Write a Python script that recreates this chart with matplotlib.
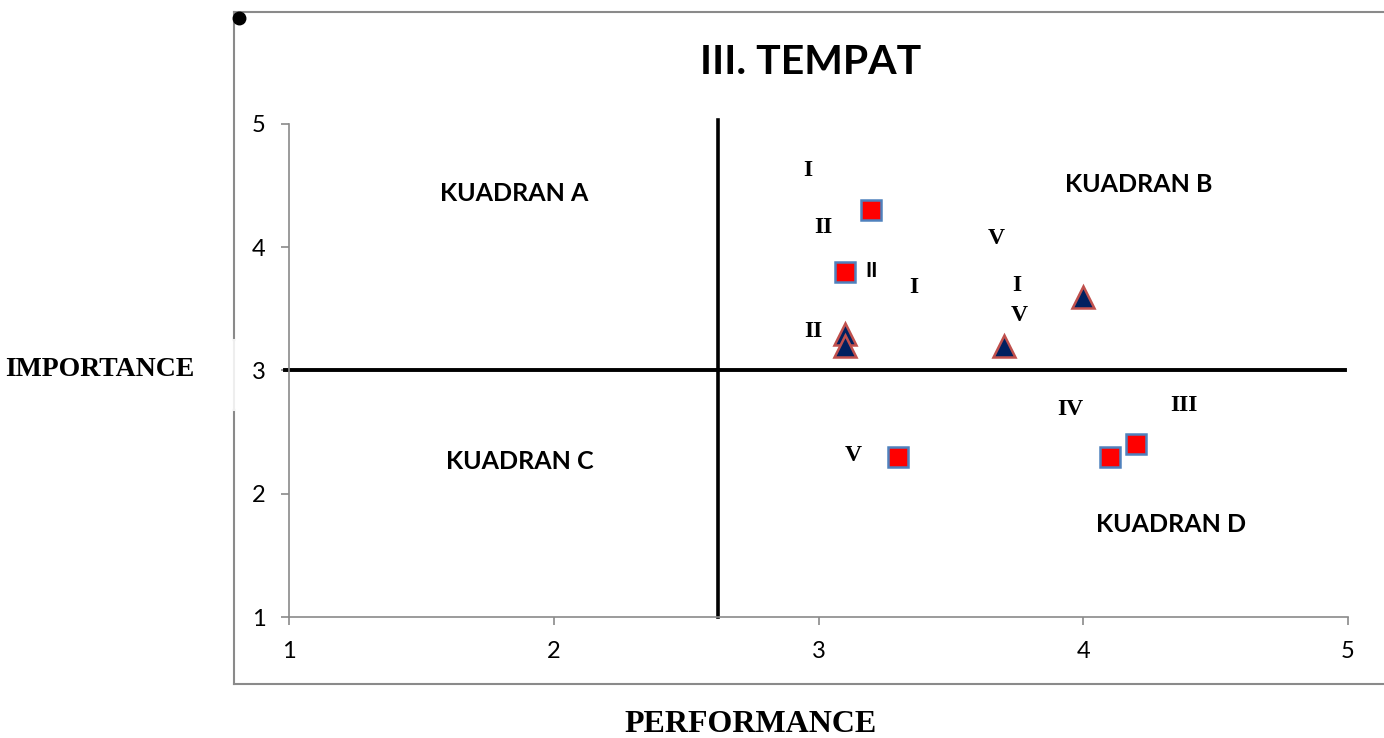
import numpy as np
import matplotlib.pyplot as plt
from matplotlib.lines import Line2D

# ================= data =================
# squares (red)
sq_x = [3.2, 3.1, 3.3, 4.1, 4.2]
sq_y = [4.3, 3.8, 2.3, 2.3, 2.4]

# triangles (navy)
tri_x = [3.1, 3.1, 3.7, 4.0]
tri_y = [3.3, 3.2, 3.2, 3.6]

# roman numeral labels (serif)
lab_txt = ['I', 'II', 'I', 'V', 'I', 'V', 'II', 'IV', 'III', 'V']
lab_x = [2.96, 3.02, 3.36, 3.67, 3.75, 3.76, 2.98, 3.95, 4.38, 3.13]
lab_y = [4.62, 4.16, 3.67, 4.07, 3.69, 3.45, 3.32, 2.68, 2.72, 2.31]

# the one sans "II" label next to square
lab2_txt = 'II'
lab2_x, lab2_y = 3.20, 3.81

quad_txt = ['KUADRAN A', 'KUADRAN B', 'KUADRAN C', 'KUADRAN D']
quad_x = [1.85, 4.21, 1.87, 4.33]
quad_y = [4.44, 4.51, 2.26, 1.75]

x_cut = 2.62   # vertical divider
y_cut = 3.0    # horizontal divider

ticks = [1, 2, 3, 4, 5]

# ================= plot =================
sans = 'Lato'
serif = 'Liberation Serif'
plt.rcParams['font.family'] = [sans, 'DejaVu Sans']
plt.rcParams['xtick.labelsize'] = 17
plt.rcParams['ytick.labelsize'] = 17

fig = plt.figure(figsize=(13.84, 7.38), dpi=100)
ax = fig.add_axes([289/1384, 1-617/738, (1348-289)/1384, (617-124)/738])

ax.set_xlim(1, 5)
ax.set_ylim(1, 5)
ax.set_xticks(ticks)
ax.set_yticks(ticks)
ax.tick_params(direction='out', length=6, width=1.2, color='#8a8a8a', pad=11)
for s in ['top', 'right']:
    ax.spines[s].set_visible(False)
for s in ['left', 'bottom']:
    ax.spines[s].set_color('#8a8a8a')
    ax.spines[s].set_linewidth(1.2)

# divider lines
ax.plot([x_cut, x_cut], [1, 5.03], color='black', lw=2.6, clip_on=False, zorder=2)
ax.plot([0.985, 4.99], [y_cut, y_cut], color='black', lw=2.8, clip_on=False, zorder=2)

# markers
ax.plot(sq_x, sq_y, ls='none', marker='s', ms=14, mfc='#ff0000',
        mec='#4f81bd', mew=1.8, zorder=3)
ax.plot(tri_x, tri_y, ls='none', marker='^', ms=16, mfc='#002060',
        mec='#c0504d', mew=1.8, zorder=4)

# labels
for t, x, y in zip(lab_txt, lab_x, lab_y):
    ax.text(x, y, t, family=serif, fontweight='bold', fontsize=17,
            ha='center', va='center')
ax.text(lab2_x, lab2_y, lab2_txt, family=sans, fontweight='bold', fontsize=15,
        ha='center', va='center')
for t, x, y in zip(quad_txt, quad_x, quad_y):
    ax.text(x, y, t, family=sans, fontweight='bold', fontsize=18,
            ha='center', va='center')

# title and axis names
fig.text(811/1384, 1-63/738, 'III. TEMPAT', family=sans, fontweight='bold',
         fontsize=29.5, ha='center', va='center')
fig.text(100/1384, 1-370/738, 'IMPORTANCE', family=serif, fontweight='bold',
         fontsize=20, ha='center', va='center')
fig.text(751/1384, 1-724/738, 'PERFORMANCE', family=serif, fontweight='bold',
         fontsize=23, ha='center', va='center')

# outer chart box (left, top, bottom)
bx0, by0, by1 = 234/1384, 1-684/738, 1-12/738
box_kw = dict(color='#8a8a8a', lw=1.5, transform=fig.transFigure)
fig.add_artist(Line2D([bx0, 1], [by1, by1], **box_kw))
fig.add_artist(Line2D([bx0, 1], [by0, by0], **box_kw))
fig.add_artist(Line2D([bx0, bx0], [by0, 1-410/738], **box_kw))
fig.add_artist(Line2D([bx0, bx0], [1-340/738, by1], **box_kw))
fig.add_artist(Line2D([bx0, bx0], [1-410/738, 1-340/738], color='#eeeeee',
                      lw=1.5, transform=fig.transFigure))
fig.add_artist(Line2D([239/1384], [1-18/738], marker='o', ms=9, color='black',
                      transform=fig.transFigure))

fig.savefig('out.png', dpi=100, facecolor='white')
